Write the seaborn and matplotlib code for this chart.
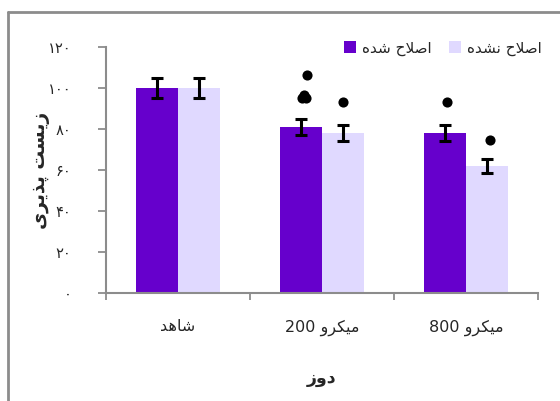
import matplotlib
matplotlib.use("Agg")
import matplotlib.pyplot as plt
from matplotlib.patches import Patch
from matplotlib.lines import Line2D
import seaborn as sns
import pandas as pd

# ---- data ----
doses = ["شاهد", "میکرو 200", "میکرو 800"]
groups = ["اصلاح شده", "اصلاح نشده"]
viability_treated = [100, 81, 78]
viability_untreated = [100, 78, 62]
err_treated = [5, 4, 4]
err_untreated = [5, 4, 3.3]
# significance dots: (dose index, group index, y value, x shift)
sig_marks = [
    (1, 0, 106.3, 0.04),
    (1, 0, 95.3, 0.008),
    (1, 0, 95.3, 0.036),
    (1, 0, 96.8, 0.022),
    (1, 1, 93.2, 0.0),
    (2, 0, 93.2, 0.015),
    (2, 1, 74.6, 0.02),
]
y_ticks = [0, 20, 40, 60, 80, 100, 120]
x_title = "دوز"
y_title = "زیست پذیری"

colors = ["#6600CC", "#E0D9FF"]
axis_grey = "#8C8C8C"

# ---- minimal Arabic-script shaping for matplotlib (no native RTL support) ----
FORMS = {
    'ا': (0xFE8D, 0xFE8E, None, None),
    'د': (0xFEA9, 0xFEAA, None, None),
    'ذ': (0xFEAB, 0xFEAC, None, None),
    'ر': (0xFEAD, 0xFEAE, None, None),
    'ز': (0xFEAF, 0xFEB0, None, None),
    'و': (0xFEED, 0xFEEE, None, None),
    'پ': (0xFB56, 0xFB57, 0xFB58, 0xFB59),
    'ت': (0xFE95, 0xFE96, 0xFE97, 0xFE98),
    'ح': (0xFEA1, 0xFEA2, 0xFEA3, 0xFEA4),
    'س': (0xFEB1, 0xFEB2, 0xFEB3, 0xFEB4),
    'ش': (0xFEB5, 0xFEB6, 0xFEB7, 0xFEB8),
    'ص': (0xFEB9, 0xFEBA, 0xFEBB, 0xFEBC),
    'ک': (0xFB8E, 0xFB8F, 0xFB90, 0xFB91),
    'ل': (0xFEDD, 0xFEDE, 0xFEDF, 0xFEE0),
    'م': (0xFEE1, 0xFEE2, 0xFEE3, 0xFEE4),
    'ن': (0xFEE5, 0xFEE6, 0xFEE7, 0xFEE8),
    'ه': (0xFEE9, 0xFEEA, 0xFEEB, 0xFEEC),
    'ی': (0xFBFC, 0xFBFD, 0xFBFE, 0xFBFF),
}


def _joins_forward(c):
    return c in FORMS and FORMS[c][2] is not None


def shape_word(w):
    out = []
    i, n = 0, len(w)
    while i < n:
        c = w[i]
        if c not in FORMS:
            out.append(c)
            i += 1
            continue
        prev_j = i > 0 and _joins_forward(w[i - 1])
        if c == 'ل' and i + 1 < n and w[i + 1] == 'ا':
            out.append(chr(0xFEFC if prev_j else 0xFEFB))
            i += 2
            continue
        next_j = _joins_forward(c) and i + 1 < n and w[i + 1] in FORMS
        iso, fin, ini, med = FORMS[c]
        if prev_j and next_j:
            f = med
        elif prev_j:
            f = fin
        elif next_j:
            f = ini
        else:
            f = iso
        out.append(chr(f))
        i += 1
    return ''.join(reversed(out))


def rtl(text):
    words = text.split(' ')
    vis = [shape_word(w) if any(ch in FORMS for ch in w) else w for w in words]
    return ' '.join(reversed(vis))


def fa_digits(v):
    return ''.join(chr(0x06F0 + int(d)) for d in str(v))


# ---- plotting ----
sns.set_style("white")
plt.rcParams['font.family'] = ['DejaVu Sans']

df = pd.DataFrame({
    "dose": doses * 2,
    "group": [groups[0]] * 3 + [groups[1]] * 3,
    "value": viability_treated + viability_untreated,
    "err": err_treated + err_untreated,
})

fig = plt.figure(figsize=(5.6, 4.01), dpi=100)
ax = fig.add_axes([106 / 560, 1 - 293 / 401, 432 / 560, 246 / 401])

sns.barplot(data=df, x="dose", y="value", hue="group", order=doses,
            hue_order=groups, palette=colors, width=0.583, errorbar=None,
            saturation=1, legend=False, ax=ax, linewidth=0)

# bar centres from the drawn patches
bars = [p for p in ax.patches if p.get_height() > 0]
centres = {}
for p in bars:
    cx = p.get_x() + p.get_width() / 2
    di = int(round(cx))
    gi = 0 if cx < di else 1
    centres[(di, gi)] = cx

for gi, (vals, errs) in enumerate([(viability_treated, err_treated),
                                   (viability_untreated, err_untreated)]):
    xs = [centres[(di, gi)] for di in range(len(doses))]
    ax.errorbar(xs, vals, yerr=errs, fmt='none', ecolor='black',
                elinewidth=2.2, capsize=4.3, capthick=2.2, zorder=5)

for di, gi, yv, dx in sig_marks:
    ax.plot(centres[(di, gi)] + dx, yv, 'o', color='black', ms=7.3,
            mec='none', zorder=6, clip_on=False)

ax.set_xlim(-0.5, 2.5)
ax.set_ylim(0, 120)

for s in ["top", "right"]:
    ax.spines[s].set_visible(False)
for s in ["left", "bottom"]:
    ax.spines[s].set_color(axis_grey)
    ax.spines[s].set_linewidth(1.5)

ax.set_yticks(y_ticks)
ax.set_yticklabels([fa_digits(v) for v in y_ticks], fontsize=10.5)
ax.tick_params(axis='y', direction='out', length=6, width=1.3,
               color=axis_grey, pad=19, left=True)

ax.set_xticks([-0.5, 0.5, 1.5, 2.5])
ax.set_xticklabels([])
ax.set_xticks(range(len(doses)), minor=True)
ax.set_xticklabels([rtl(d) for d in doses], minor=True, fontsize=11.5)
ax.tick_params(axis='x', which='major', direction='out', length=5,
               width=1.3, color=axis_grey, bottom=True)
ax.tick_params(axis='x', which='minor', length=0, pad=19)

ax.set_xlabel(rtl(x_title), fontsize=12.5, fontweight='bold')
ax.xaxis.set_label_coords(0.5, (293 - 378) / 246)
ax.set_ylabel(rtl(y_title), fontsize=13.5, fontweight='bold')
ax.yaxis.set_label_coords((40 - 106) / 432, 0.5)
ax.yaxis.label.set_va('center')
ax.xaxis.label.set_va('center')

handles = [Patch(facecolor=c, edgecolor='none') for c in colors]
fig.legend(handles, [rtl(g) for g in groups], ncol=2, frameon=False,
           loc='center left', bbox_to_anchor=(338 / 560, 1 - 48 / 401),
           fontsize=11, handlelength=0.8, handleheight=0.8,
           handletextpad=0.4, columnspacing=1.1, borderaxespad=0)

# chart-area border
fig.add_artist(Line2D([8 / 560, 1.0], [1 - 12 / 401, 1 - 12 / 401],
                      color=axis_grey, lw=2))
fig.add_artist(Line2D([8 / 560, 8 / 560], [0.0, 1 - 12 / 401],
                      color=axis_grey, lw=2))

fig.savefig("out.png", dpi=100)
